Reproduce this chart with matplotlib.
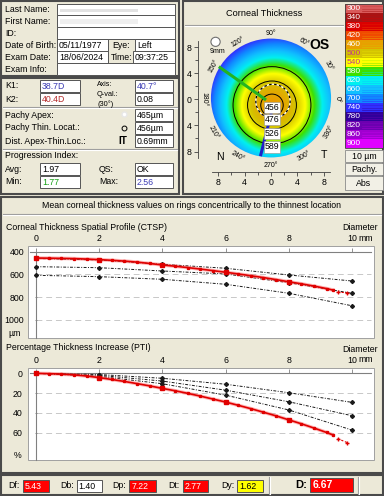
import numpy as np
import matplotlib
matplotlib.use("Agg")
import matplotlib.pyplot as plt
from matplotlib import font_manager
from matplotlib.patches import Rectangle, Circle
from matplotlib.colors import LinearSegmentedColormap, Normalize

# ---------------- data ----------------
# header
birth_date = "05/11/1977"
exam_date = "18/06/2024"
exam_time = "09:37:25"
eye_side = "Left"
k1, k2 = "38.7D", "40.4D"
axis_val, q_val = "40.7°", "0.08"
pachy_apex, pachy_thin, dist_thin = "465µm", "456µm", "0.69mm"
pi_avg, pi_min, pi_max, qs_val = "1.97", "1.77", "2.56", "OK"

# colour scale of the pachymetry map
scale_values = [300, 340, 380, 420, 460, 500, 540, 580, 620, 660, 700, 740, 780, 820, 860, 900]
scale_colors = ["#d85a5a", "#a81414", "#dc0000", "#f04a00", "#e8a000", "#d4c400",
                "#ffff00", "#3ce000", "#00f0f0", "#10c0ff", "#1088ff", "#3030ff",
                "#30009a", "#6c00b0", "#a000d0", "#e000ff"]

# map: thickness against distance (mm) from the thinnest point
map_r = [0, 1, 2, 3, 4, 5, 6, 7, 8, 9, 10, 11]
map_t = [456, 460, 472, 490, 517, 547, 578, 612, 652, 690, 725, 755]
thin_loc = (0.15, -0.9)
contour_radii = [1.7, 3.7, 5.9]
pupil_center, pupil_radius = (0.3, -0.3), 2.6
ring_labels = ["456", "476", "526", "589"]
ring_label_y = [-1.2, -3.1, -5.2, -7.3]
green_x, green_y = [-7.9, -0.75], [5.0, -0.1]
blue_x, blue_y = [0.05, -1.6], [-2.1, -8.7]
angles = [0, 30, 60, 90, 120, 150, 180, 210, 240, 270, 300, 330]

# CTSP / PTI profiles (diameter in mm)
ctsp_x = [0, 0.4, 0.8, 1.2, 1.6, 2.0, 2.4, 2.8, 3.2, 3.6, 4.0, 4.4, 4.8,
          5.2, 5.6, 6.0, 6.4, 6.8, 7.2, 7.6, 8.0, 8.4, 8.8, 9.2, 9.4]
ctsp_patient = [456, 457, 459, 461, 465, 470, 476, 483, 492, 504, 517, 528, 540,
                553, 567, 581, 596, 612, 628, 646, 665, 683, 703, 725, 738]
tail_x = [9.55, 9.85]
ctsp_tail = [757, 761]
norm_x = [0, 2, 4, 6, 8, 10]
ctsp_norm_low = [460, 473, 511, 546, 605, 658]
ctsp_norm_mid = [532, 541, 570, 596, 673, 766]
ctsp_norm_high = [608, 620, 643, 687, 766, 876]
pti_patient = [0, 0.3, 0.8, 1.5, 2.7, 4.3, 6.2, 8.2, 10.4, 12.7, 15.2, 17.6, 20.2,
               23.0, 26.0, 29.0, 32.3, 35.7, 39.3, 43.0, 47.0, 51.0, 55.3, 59.8, 62.3]
pti_tail = [66, 70]
pti_norm_low = [0, 1.2, 5.0, 11.0, 19.6, 29.3]
pti_norm_mid = [0, 2.0, 7.8, 17.0, 28.7, 42.8]
pti_norm_high = [0, 3.0, 10.5, 22.0, 37.0, 57.3]

# D values (Belin/Ambrosio)
d_names = ["Df:", "Db:", "Dp:", "Dt:", "Dy:"]
d_values = ["5.43", "1.40", "7.22", "2.77", "1.62"]
d_total = "6.67"

# ---------------- style ----------------
available = {f.name for f in font_manager.fontManager.ttflist}
if "Liberation Sans Narrow" in available:
    plt.rcParams["font.family"] = ["Liberation Sans Narrow", "DejaVu Sans"]
    F = 7.0
else:
    plt.rcParams["font.family"] = ["Liberation Sans", "DejaVu Sans"]
    F = 6.3

BG = "#ece9d8"
W, H = 384, 496
fig = plt.figure(figsize=(W / 100, H / 100), dpi=100)
fig.patch.set_facecolor(BG)


def px_axes(x, y, w, h):
    return fig.add_axes([x / W, 1 - (y + h) / H, w / W, h / H])


ax = px_axes(0, 0, W, H)
ax.set_xlim(0, W)
ax.set_ylim(H, 0)
ax.axis("off")


def panel(x, y, w, h):
    ax.add_patch(Rectangle((x, y), w, h, facecolor=BG, edgecolor="#4a4a4a", lw=1.5))


def field(x, y, w, h, text="", color="black", fc="white", **kw):
    ax.add_patch(Rectangle((x, y), w, h, facecolor=fc, edgecolor="#555555", lw=0.7))
    if text:
        ax.text(x + 2, y + h / 2 + 0.3, text, color=color, fontsize=kw.pop("fontsize", F),
                va="center", **kw)


def label(x, y, s, **kw):
    ax.text(x, y, s, fontsize=kw.pop("fontsize", F), va="center", **kw)


def sep(x0, x1, y):
    ax.plot([x0, x1], [y, y], color="#9a9a9a", lw=0.8)
    ax.plot([x0, x1], [y + 1, y + 1], color="white", lw=0.8)


# panels
panel(1, 1, 178, 75)
panel(1, 78, 178, 116)
panel(183, 1, 200, 193)
panel(1, 197, 382, 276)
panel(1, 475, 382, 20)

# patient info
for lab, y in zip(["Last Name:", "First Name:", "ID:", "Date of Birth:", "Exam Date:", "Exam Info:"],
                  [10, 21.5, 33, 45, 57, 69]):
    label(5, y, lab)
field(57, 4, 118, 11)
ax.add_patch(Rectangle((60, 8.5), 78, 3.5, fc="#e2e2e2", ec="none"))
field(57, 15, 118, 12)
ax.add_patch(Rectangle((60, 19), 78, 4.5, fc="#efefef", ec="none"))
field(57, 27, 118, 12)
field(57, 39, 51, 12, birth_date)
label(112, 45, "Eye:")
field(135, 39, 40, 12, eye_side)
field(57, 51, 51, 12, exam_date)
label(111, 57, "Time:")
field(133, 51, 42, 12, exam_time)
field(57, 63, 118, 12)

# keratometry / pachymetry
label(5, 86, "K1:")
field(40, 80, 40, 12, k1, color="#3c3cb4")
label(5, 99, "K2:")
field(40, 93, 40, 12, k2, color="#b42828")
label(97, 84, "Axis:", fontsize=F * 0.8)
label(97, 94.5, "Q-val.:", fontsize=F * 0.85)
label(97, 104, "(30°)", fontsize=F * 0.85)
field(135, 80, 38, 12, axis_val, color="#3c3cb4")
field(135, 93, 38, 12, q_val)
sep(3, 177, 107)
label(5, 115, "Pachy Apex:")
ax.plot([124], [114], marker="o", ms=3.5, mfc="white", mec="#e8e8e8")
field(135, 109, 38, 12, pachy_apex)
label(5, 128, "Pachy Thin. Locat.:")
ax.plot([124], [127.5], marker="o", ms=3.5, mfc="none", mec="black", mew=0.7)
field(135, 122, 38, 12, pachy_thin)
label(5, 141, "Dist. Apex-Thin.Loc.:")
label(118, 141, "IT", fontsize=F * 1.15, fontweight="bold")
field(135, 135, 38, 12, dist_thin)
sep(3, 177, 149)
label(5, 156, "Progression Index:")
label(5, 169, "Avg:")
field(40, 163, 40, 12, pi_avg)
label(99, 169, "QS:")
field(135, 163, 38, 12, qs_val)
label(5, 182, "Min:")
field(40, 176, 40, 12, pi_min, color="#14a014")
label(99, 182, "Max:")
field(135, 176, 38, 12, pi_max, color="#3c3cb4")

# map panel: title and colour scale
ax.text(264, 14, "Corneal Thickness", fontsize=F * 1.05, ha="center", va="center")
sep(185, 343, 25)
cmap = LinearSegmentedColormap.from_list(
    "pachy", [((v - 300) / 600, c) for v, c in zip(scale_values, scale_colors)])
norm = Normalize(300, 900)
for i, (v, c) in enumerate(zip(scale_values, scale_colors)):
    y0 = 4 + i * 9
    ax.add_patch(Rectangle((345, y0), 38, 9, fc=c, ec="none"))
    for k in range(1, 4):
        ax.plot([362, 382], [y0 + k * 2.25, y0 + k * 2.25], color=cmap(norm(v + k * 10)), lw=0.5)
    ax.text(354, y0 + 4.8, str(v), fontsize=F * 0.95, ha="center", va="center",
            color="#c03c8c" if v in (500, 540) else "white")
ax.add_patch(Rectangle((345, 4), 38, 144, fc="none", ec="#404040", lw=0.6))
for txt, y0, h in [("10 µm", 150, 12), ("Pachy.", 163, 12), ("Abs", 176, 14)]:
    ax.add_patch(Rectangle((345, y0), 38, h, fc="#f2f0e6", ec="#8a8a8a", lw=0.6))
    ax.text(364, y0 + h / 2 + 0.3, txt, fontsize=F, ha="center", va="center")

# graphs panel texts
ax.text(192, 206, "Mean corneal thickness values on rings concentrically to the thinnest location",
        fontsize=F, ha="center", va="center")
sep(3, 381, 214)
label(6, 227, "Corneal Thickness Spatial Profile (CTSP)")
ax.text(378, 227, "Diameter", fontsize=F, ha="right", va="center")
ax.text(373, 238.5, "mm", fontsize=F, ha="right", va="center")
ax.text(15, 333, "µm", fontsize=F, ha="center", va="center")
label(6, 347, "Percentage Thickness Increase (PTI)")
ax.text(378, 349, "Diameter", fontsize=F, ha="right", va="center")
ax.text(373, 359.5, "mm", fontsize=F, ha="right", va="center")
ax.text(18, 455, "%", fontsize=F, ha="center", va="center")
for y0, h in [(246, 92), (368, 92)]:
    ax.add_patch(Rectangle((28, y0), 346, h, fc="white", ec="#a0a0a0", lw=0.7))

# D bar
d_boxes = [(22.7, 26.6, "#ff0000", "white"), (76.7, 25.6, "white", "black"),
           (129.3, 26.7, "#ff0000", "white"), (182.7, 25.6, "#ff0000", "white"),
           (237.3, 26.0, "#ffff00", "black")]
for name, val, (bx, bw, fc, tc) in zip(d_names, d_values, d_boxes):
    ax.text(bx - 3, 486, name, fontsize=F, va="center", ha="right")
    field(bx, 479.5, bw, 12.5, val, color=tc, fc=fc)
for x in (268.5, 358):
    ax.plot([x, x], [477, 494], color="#9a9a9a", lw=0.8)
    ax.plot([x + 1, x + 1], [477, 494], color="white", lw=0.8)
ax.text(295, 485.5, "D:", fontsize=8, fontweight="bold", va="center", family="Liberation Sans")
ax.add_patch(Rectangle((310, 477.5), 43.3, 14.5, fc="#ff0000", ec="#555555", lw=0.7))
ax.text(313, 485.2, d_total, fontsize=7.5, fontweight="bold", color="white", va="center",
        family="Liberation Sans")

# ---------------- pachymetry map ----------------
ax_m = px_axes(198, 27, 146, 145)
ax_m.set_xlim(-11.06, 11.06)
ax_m.set_ylim(-11.13, 11.07)
ax_m.patch.set_alpha(0)
gx = np.linspace(-9.4, 9.6, 401)
GX, GY = np.meshgrid(gx, gx)
rr = np.hypot(GX - thin_loc[0], GY - thin_loc[1])
thick = np.interp(rr, map_r, map_t) - 0.25 * GX * rr
im = ax_m.imshow(thick, extent=(-9.4, 9.6, -9.4, 9.6), origin="lower", cmap=cmap, norm=norm,
                 interpolation="bilinear", aspect="auto", zorder=1)
disk = Circle((0, 0.2), 9.1, transform=ax_m.transData, fc="none", ec="none")
ax_m.add_patch(disk)
im.set_clip_path(disk)
for r in contour_radii:
    ax_m.add_patch(Circle(thin_loc, r, fill=False, ec="black", lw=0.7, zorder=3))
ax_m.add_patch(Circle(pupil_center, pupil_radius, fill=False, ec="white", lw=0.9, zorder=3))
ax_m.add_patch(Circle(pupil_center, pupil_radius, fill=False, ec="black", lw=0.9,
                      ls=(0, (2, 2)), zorder=3))
ax_m.plot(green_x, green_y, color="#22b422", lw=2.2, solid_capstyle="butt", zorder=4)
ax_m.plot(blue_x, blue_y, color="#2020c8", lw=2.2, solid_capstyle="butt", zorder=4)
for s, y in zip(ring_labels, ring_label_y):
    ax_m.text(0.15, y, s, fontsize=F, ha="center", va="center", zorder=6,
              bbox=dict(boxstyle="square,pad=0.12", fc="white", ec="#909090", lw=0.4))
ax_m.add_patch(Circle((-8.4, 8.8), 0.7, fc="white", ec="#707070", lw=0.8, zorder=5))
ax_m.text(-8.1, 7.3, "9mm", fontsize=F * 0.8, ha="center", va="center", zorder=5)
for a in angles:
    rot = a - 90 if a < 180 else a - 270
    t = np.deg2rad(a)
    ax_m.text(10.1 * np.cos(t), 10.1 * np.sin(t), f"{a}°", rotation=rot, fontsize=F * 0.8,
              ha="center", va="center", clip_on=False, zorder=5)
ax_m.text(7.4, 8.3, "OS", fontsize=10, fontweight="bold", ha="center", va="center",
          family="Liberation Sans", zorder=6)
ax_m.text(-7.7, -8.8, "N", fontsize=F * 1.2, ha="center", va="center")
ax_m.text(8.0, -8.5, "T", fontsize=F * 1.2, ha="center", va="center")
ticks = [-8, -4, 0, 4, 8]
tick_labels = ["8", "4", "0", "4", "8"]
ax_m.set_xticks(ticks)
ax_m.set_xticklabels(tick_labels)
ax_m.set_yticks(ticks)
ax_m.set_yticklabels(tick_labels)
ax_m.set_xticks([-6, -2, 2, 6], minor=True)
ax_m.set_yticks([-6, -2, 2, 6], minor=True)
ax_m.tick_params(which="both", labelsize=F, length=3, width=0.6, color="#404040", pad=1.5)
ax_m.tick_params(which="minor", length=2)
for s in ("top", "right"):
    ax_m.spines[s].set_visible(False)
for s in ("left", "bottom"):
    ax_m.spines[s].set_bounds(-9, 9)
    ax_m.spines[s].set_color("#404040")
    ax_m.spines[s].set_linewidth(0.6)


# ---------------- profile graphs ----------------
def profile_axes(y0, ylim, base, yticks, ylabel_pad):
    a = px_axes(28, y0, 346, 92)
    a.set_xlim(-0.253, 10.70)
    a.set_ylim(ylim)
    a.patch.set_alpha(0)
    a.spines["right"].set_visible(False)
    a.spines["bottom"].set_visible(False)
    a.spines["top"].set_position(("data", base))
    a.spines["top"].set_bounds(-0.2, 10.6)
    a.spines["left"].set_position(("data", 0))
    a.spines["left"].set_bounds(base, ylim[0])
    for s in ("top", "left"):
        a.spines[s].set_color("#808080")
        a.spines[s].set_linewidth(0.8)
    a.xaxis.tick_top()
    a.set_xticks(norm_x)
    a.set_xticklabels([str(v) for v in norm_x])
    a.tick_params(axis="x", direction="out", length=3, width=0.6, color="#808080",
                  pad=3.0, labelsize=F)
    a.set_yticks(yticks)
    a.tick_params(axis="y", direction="inout", length=2, width=0.6, color="#808080",
                  pad=ylabel_pad, labelsize=F)
    a.hlines(yticks[1:], 0, 10.6, colors="#c8c8c8", linestyles=(0, (6, 4)), lw=0.7, zorder=1)
    return a


def draw_profiles(a, patient, tail, norms):
    for series in norms:
        a.plot(norm_x, series, color="#1a1a1a", lw=0.7, ls=(0, (3, 1.5, 1, 1.5)),
               marker="D", ms=2.0, zorder=3)
    a.plot(ctsp_x, patient, color="#ff6060", lw=2.6, alpha=0.45, zorder=4)
    a.plot(ctsp_x, patient, color="#e00000", lw=1.2, marker="s", ms=1.4, zorder=5)
    a.plot(ctsp_x, patient, ls="none", marker="s", ms=3.4, color="#e00000",
           markevery=[0, 5, 10, 15, 20], zorder=5)
    a.plot(tail_x, tail, color="#e00000", lw=0.8, ls=(0, (2, 1.5)), marker="+", ms=3, zorder=5)


ax_c = profile_axes(246, (1160, 350), 400, [400, 600, 800, 1000], 7.5)
draw_profiles(ax_c, ctsp_patient, ctsp_tail, (ctsp_norm_low, ctsp_norm_mid, ctsp_norm_high))

ax_p = profile_axes(368, (87.6, -5.4), 0, [0, 20, 40, 60], 9)
draw_profiles(ax_p, pti_patient, pti_tail, (pti_norm_low, pti_norm_mid, pti_norm_high))

fig.savefig("out.png", dpi=100, facecolor=fig.get_facecolor())
